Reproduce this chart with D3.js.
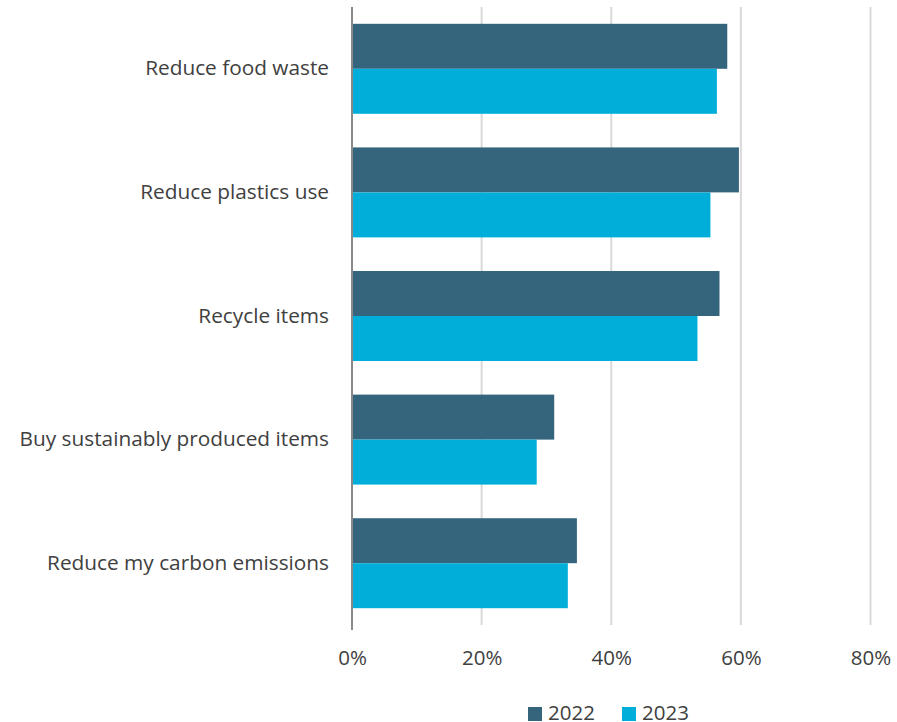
<!DOCTYPE html>
<html><head><meta charset="utf-8">
<script src="https://cdn.jsdelivr.net/npm/d3@7"></script>
<style>body{margin:0;background:#fff}svg{display:block}</style>
</head><body>
<svg id="c" width="897" height="722"></svg>
<script>
const categories = ["Reduce food waste","Reduce plastics use","Recycle items","Buy sustainably produced items","Reduce my carbon emissions"];
const seriesNames = ["2022","2023"];
const values2022 = [57.9, 59.7, 56.7, 31.2, 34.7];
const values2023 = [56.3, 55.3, 53.3, 28.5, 33.3];
const tickValues = [0, 20, 40, 60, 80];
const colors = ["#35657d", "#00aed9"];

const svg = d3.select("#c");
const font = "'Open Sans', sans-serif";
const textColor = "#404040";
const x = d3.scaleLinear().domain([0, 80]).range([352, 870.5]);
const y = d3.scaleBand().domain(categories).range([7, 625]).paddingInner(0.272).paddingOuter(0.136);
const ySub = d3.scaleBand().domain(seriesNames).range([0, y.bandwidth()]);

// gridlines
svg.append("g").selectAll("line").data(tickValues.filter(d => d > 0)).join("line")
  .attr("x1", d => x(d)).attr("x2", d => x(d)).attr("y1", 7).attr("y2", 625)
  .attr("stroke", "#d9d9d9").attr("stroke-width", 2);

const data = categories.map((c, i) => ({c, v: [values2022[i], values2023[i]]}));
const g = svg.append("g");
data.forEach(d => {
  seriesNames.forEach((s, j) => {
    g.append("rect")
      .attr("x", x(0)).attr("y", y(d.c) + ySub(s))
      .attr("width", x(d.v[j]) - x(0)).attr("height", ySub.bandwidth())
      .attr("fill", colors[j]);
  });
});

// axis line
svg.append("line").attr("x1", 352).attr("x2", 352).attr("y1", 7).attr("y2", 630)
  .attr("stroke", "#898989").attr("stroke-width", 2);

// x tick labels
const xAxis = d3.axisBottom(x).tickValues(tickValues).tickFormat(d => d + "%").tickSize(0).tickPadding(0);
const xa = svg.append("g").attr("transform", "translate(0,665)").call(xAxis);
xa.select(".domain").remove();
xa.selectAll("text").attr("font-family", font).attr("font-size", 20.5).attr("fill", textColor).attr("dy", "0").attr("y", 0);

// y labels
const yAxis = d3.axisLeft(y).tickSize(0).tickPadding(0);
const ya = svg.append("g").attr("transform", "translate(329,0)").call(yAxis);
ya.select(".domain").remove();
ya.selectAll("text").attr("font-family", font).attr("font-size", 20.8).attr("fill", textColor);

// legend
const legendX = [528, 622];
seriesNames.forEach((s, j) => {
  svg.append("rect").attr("x", legendX[j]).attr("y", 707).attr("width", 14).attr("height", 14).attr("fill", colors[j]);
  svg.append("text").attr("x", legendX[j] + 20).attr("y", 720)
    .attr("font-family", font).attr("font-size", 20.5).attr("fill", textColor).text(s);
});
</script>
</body></html>
